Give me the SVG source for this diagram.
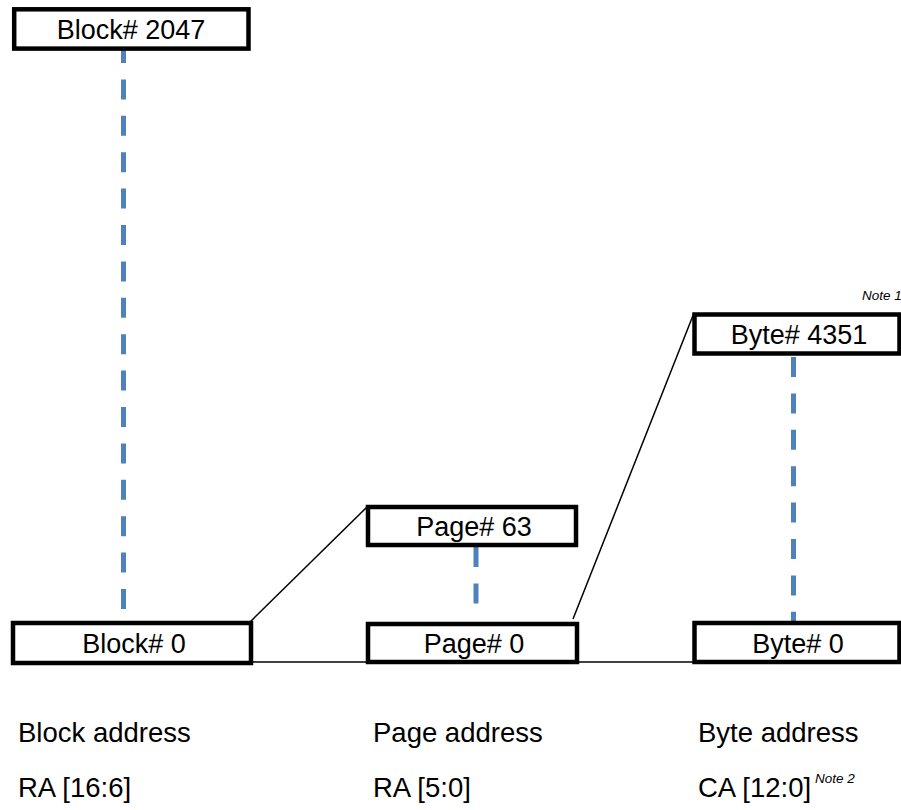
<svg xmlns="http://www.w3.org/2000/svg" width="901" height="810" viewBox="0 0 901 810">
<style>
.box{fill:#fff;stroke:#000;stroke-width:4.5}
.bt{font-family:"Liberation Sans",Arial,sans-serif;font-size:27px;fill:#000;text-anchor:middle}
.lt{font-family:"Liberation Sans",Arial,sans-serif;font-size:27.5px;fill:#000}
.note{font-family:"Liberation Sans",Arial,sans-serif;font-size:13.5px;font-style:italic;fill:#000}
.dash{stroke:#4f81bd;stroke-width:5;stroke-dasharray:20 16.4;fill:none}
.ln{stroke:#000;stroke-width:1.5;fill:none}
</style>
<rect width="901" height="810" fill="#fff"/>
<g id="connectors">
<line class="dash" x1="123.5" y1="43" x2="123.5" y2="611"/>
<line class="dash" x1="476" y1="547" x2="476" y2="604"/>
<line class="dash" x1="793.5" y1="357" x2="793.5" y2="622"/>
<line class="ln" x1="250" y1="662" x2="368" y2="662"/>
<line class="ln" x1="577" y1="662" x2="694" y2="662"/>
<line class="ln" x1="250" y1="622" x2="367" y2="507"/>
<line class="ln" x1="573" y1="619" x2="694" y2="313"/>
</g>
<g id="block2047">
<rect class="box" x="14.2" y="9.3" width="234.3" height="39.3"/>
<text class="bt" x="131" y="39">Block# 2047</text>
</g>
<g id="block0">
<rect class="box" x="13" y="623" width="238" height="40"/>
<text class="bt" x="134" y="653">Block# 0</text>
</g>
<g id="page63">
<rect class="box" x="368" y="507" width="208" height="38"/>
<text class="bt" x="474" y="536">Page# 63</text>
</g>
<g id="page0">
<rect class="box" x="368" y="624" width="209" height="38"/>
<text class="bt" x="474" y="653">Page# 0</text>
</g>
<g id="byte4351">
<rect class="box" x="694.5" y="314.5" width="205" height="39"/>
<text class="bt" x="799" y="344">Byte# 4351</text>
</g>
<g id="byte0">
<rect class="box" x="694.5" y="623" width="205" height="39"/>
<text class="bt" x="798" y="653">Byte# 0</text>
</g>
<g id="labels">
<text class="note" x="862" y="300">Note 1</text>
<text class="lt" x="18" y="742">Block address</text>
<text class="lt" x="18" y="797">RA [16:6]</text>
<text class="lt" x="373" y="742">Page address</text>
<text class="lt" x="373" y="797">RA [5:0]</text>
<text class="lt" x="698" y="742">Byte address</text>
<text class="lt" x="698" y="797">CA [12:0]</text>
<text class="note" x="815" y="783">Note 2</text>
</g>
</svg>
